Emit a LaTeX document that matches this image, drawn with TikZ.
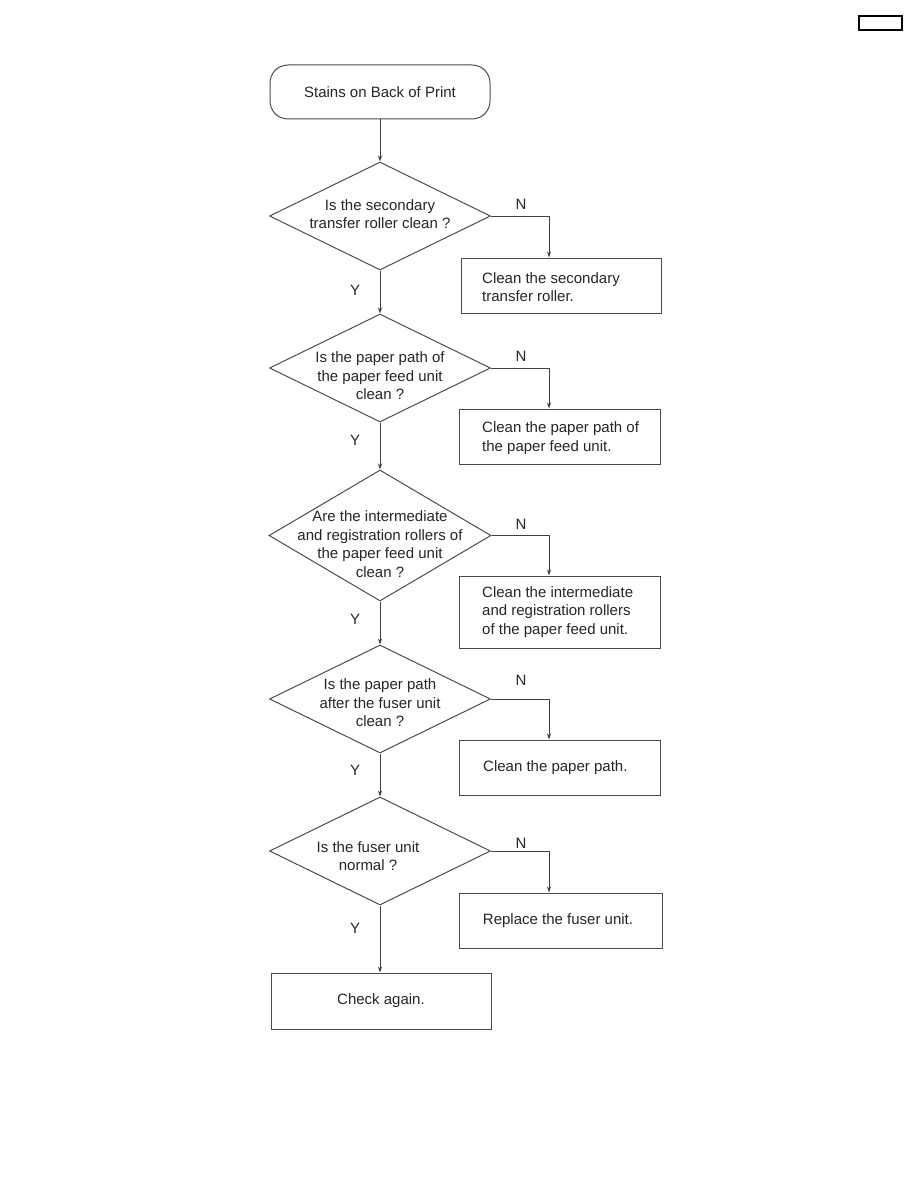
\documentclass[tikz,border=0pt]{standalone}
\usepackage{fontspec}
\setmainfont{Liberation Sans}
\usetikzlibrary{shapes.geometric,arrows.meta}
\begin{document}
\begin{tikzpicture}[x=1pt,y=-1pt,
  every node/.style={font=\fontsize{15}{18.5}\selectfont, text=black!85},
  shp/.style={draw=black!70, line width=1pt},
  dia/.style={shp, diamond, minimum width=221pt, minimum height=108pt, inner sep=0pt},
  bx/.style={shp, rectangle, minimum width=#1, minimum height=55pt, inner sep=0pt},
  txt/.style={align=left, inner sep=0pt, anchor=west},
  ctxt/.style={align=center, inner sep=0pt},
  conn/.style={draw=black!75, line width=0.9pt, -{Stealth[length=6pt,width=4pt]}},
  yn/.style={inner sep=0pt}]
\useasboundingbox (0,0) rectangle (918,1188);
% page mark top right
\node[draw=black, line width=1.2pt, minimum width=43pt, minimum height=14pt, inner sep=0pt] (pm) at (880.5,23) {};
% start
\node[shp, rectangle, rounded corners=18pt, minimum width=220pt, minimum height=54pt] (start) at (380,92) {Stains on Back of Print};
% decisions
\node[dia] (d1) at (380,216) {};
\node[ctxt] (d1t) at (380,214) {Is the secondary\\transfer roller clean ?};
\node[dia] (d2) at (380,368) {};
\node[ctxt] (d2t) at (380,376) {Is the paper path of\\the paper feed unit\\clean ?};
\node[dia, minimum width=222pt, minimum height=131pt] (d3) at (380,535.5) {};
\node[ctxt] (d3t) at (380,544) {Are the intermediate\\and registration rollers of\\the paper feed unit\\clean ?};
\node[dia] (d4) at (380,699) {};
\node[ctxt] (d4t) at (380,703) {Is the paper path\\after the fuser unit\\clean ?};
\node[dia] (d5) at (380,851) {};
\node[ctxt] (d5t) at (368,856) {Is the fuser unit\\normal ?};
% action boxes
\node[bx=200pt] (b1) at (561,285.5) {};
\node[txt] (b1t) at (482,287) {Clean the secondary\\transfer roller.};
\node[bx=201pt] (b2) at (559.5,436.5) {};
\node[txt] (b2t) at (482,438) {Clean the paper path of\\the paper feed unit.};
\node[bx=201pt, minimum height=72pt] (b3) at (559.5,612) {};
\node[txt] (b3t) at (482,612) {Clean the intermediate\\and registration rollers\\of the paper feed unit.};
\node[bx=201pt] (b4) at (559.5,767.5) {};
\node[txt] (b4t) at (483,768) {Clean the paper path.};
\node[bx=203pt] (b5) at (560.5,920.5) {};
\node[ctxt] (b5t) at (558,921) {Replace the fuser unit.};
\node[bx=220pt, minimum height=56pt] (end) at (381,1001) {Check again.};
% labels
\node[yn] (n1) at (521,204) {N};
\node[yn] (n2) at (521,356) {N};
\node[yn] (n3) at (521,524) {N};
\node[yn] (n4) at (521,680) {N};
\node[yn] (n5) at (521,843) {N};
\node[yn] (y1) at (355,290) {Y};
\node[yn] (y2) at (355,440) {Y};
\node[yn] (y3) at (355,619) {Y};
\node[yn] (y4) at (355,770) {Y};
\node[yn] (y5) at (355,928) {Y};
% connectors
\draw[conn] (start.south) -- (d1.north);
\draw[conn] (d1.south) -- (d2.north);
\draw[conn] (d2.south) -- (d3.north);
\draw[conn] (d3.south) -- (d4.north);
\draw[conn] (d4.south) -- (d5.north);
\draw[conn] (d5.south) -- (d5.south |- end.north);
\draw[conn] (d1.east) -| (549,0 |- b1.north);
\draw[conn] (d2.east) -| (549,0 |- b2.north);
\draw[conn] (d3.east) -| (549,0 |- b3.north);
\draw[conn] (d4.east) -| (549,0 |- b4.north);
\draw[conn] (d5.east) -| (549,0 |- b5.north);
\end{tikzpicture}
\end{document}
